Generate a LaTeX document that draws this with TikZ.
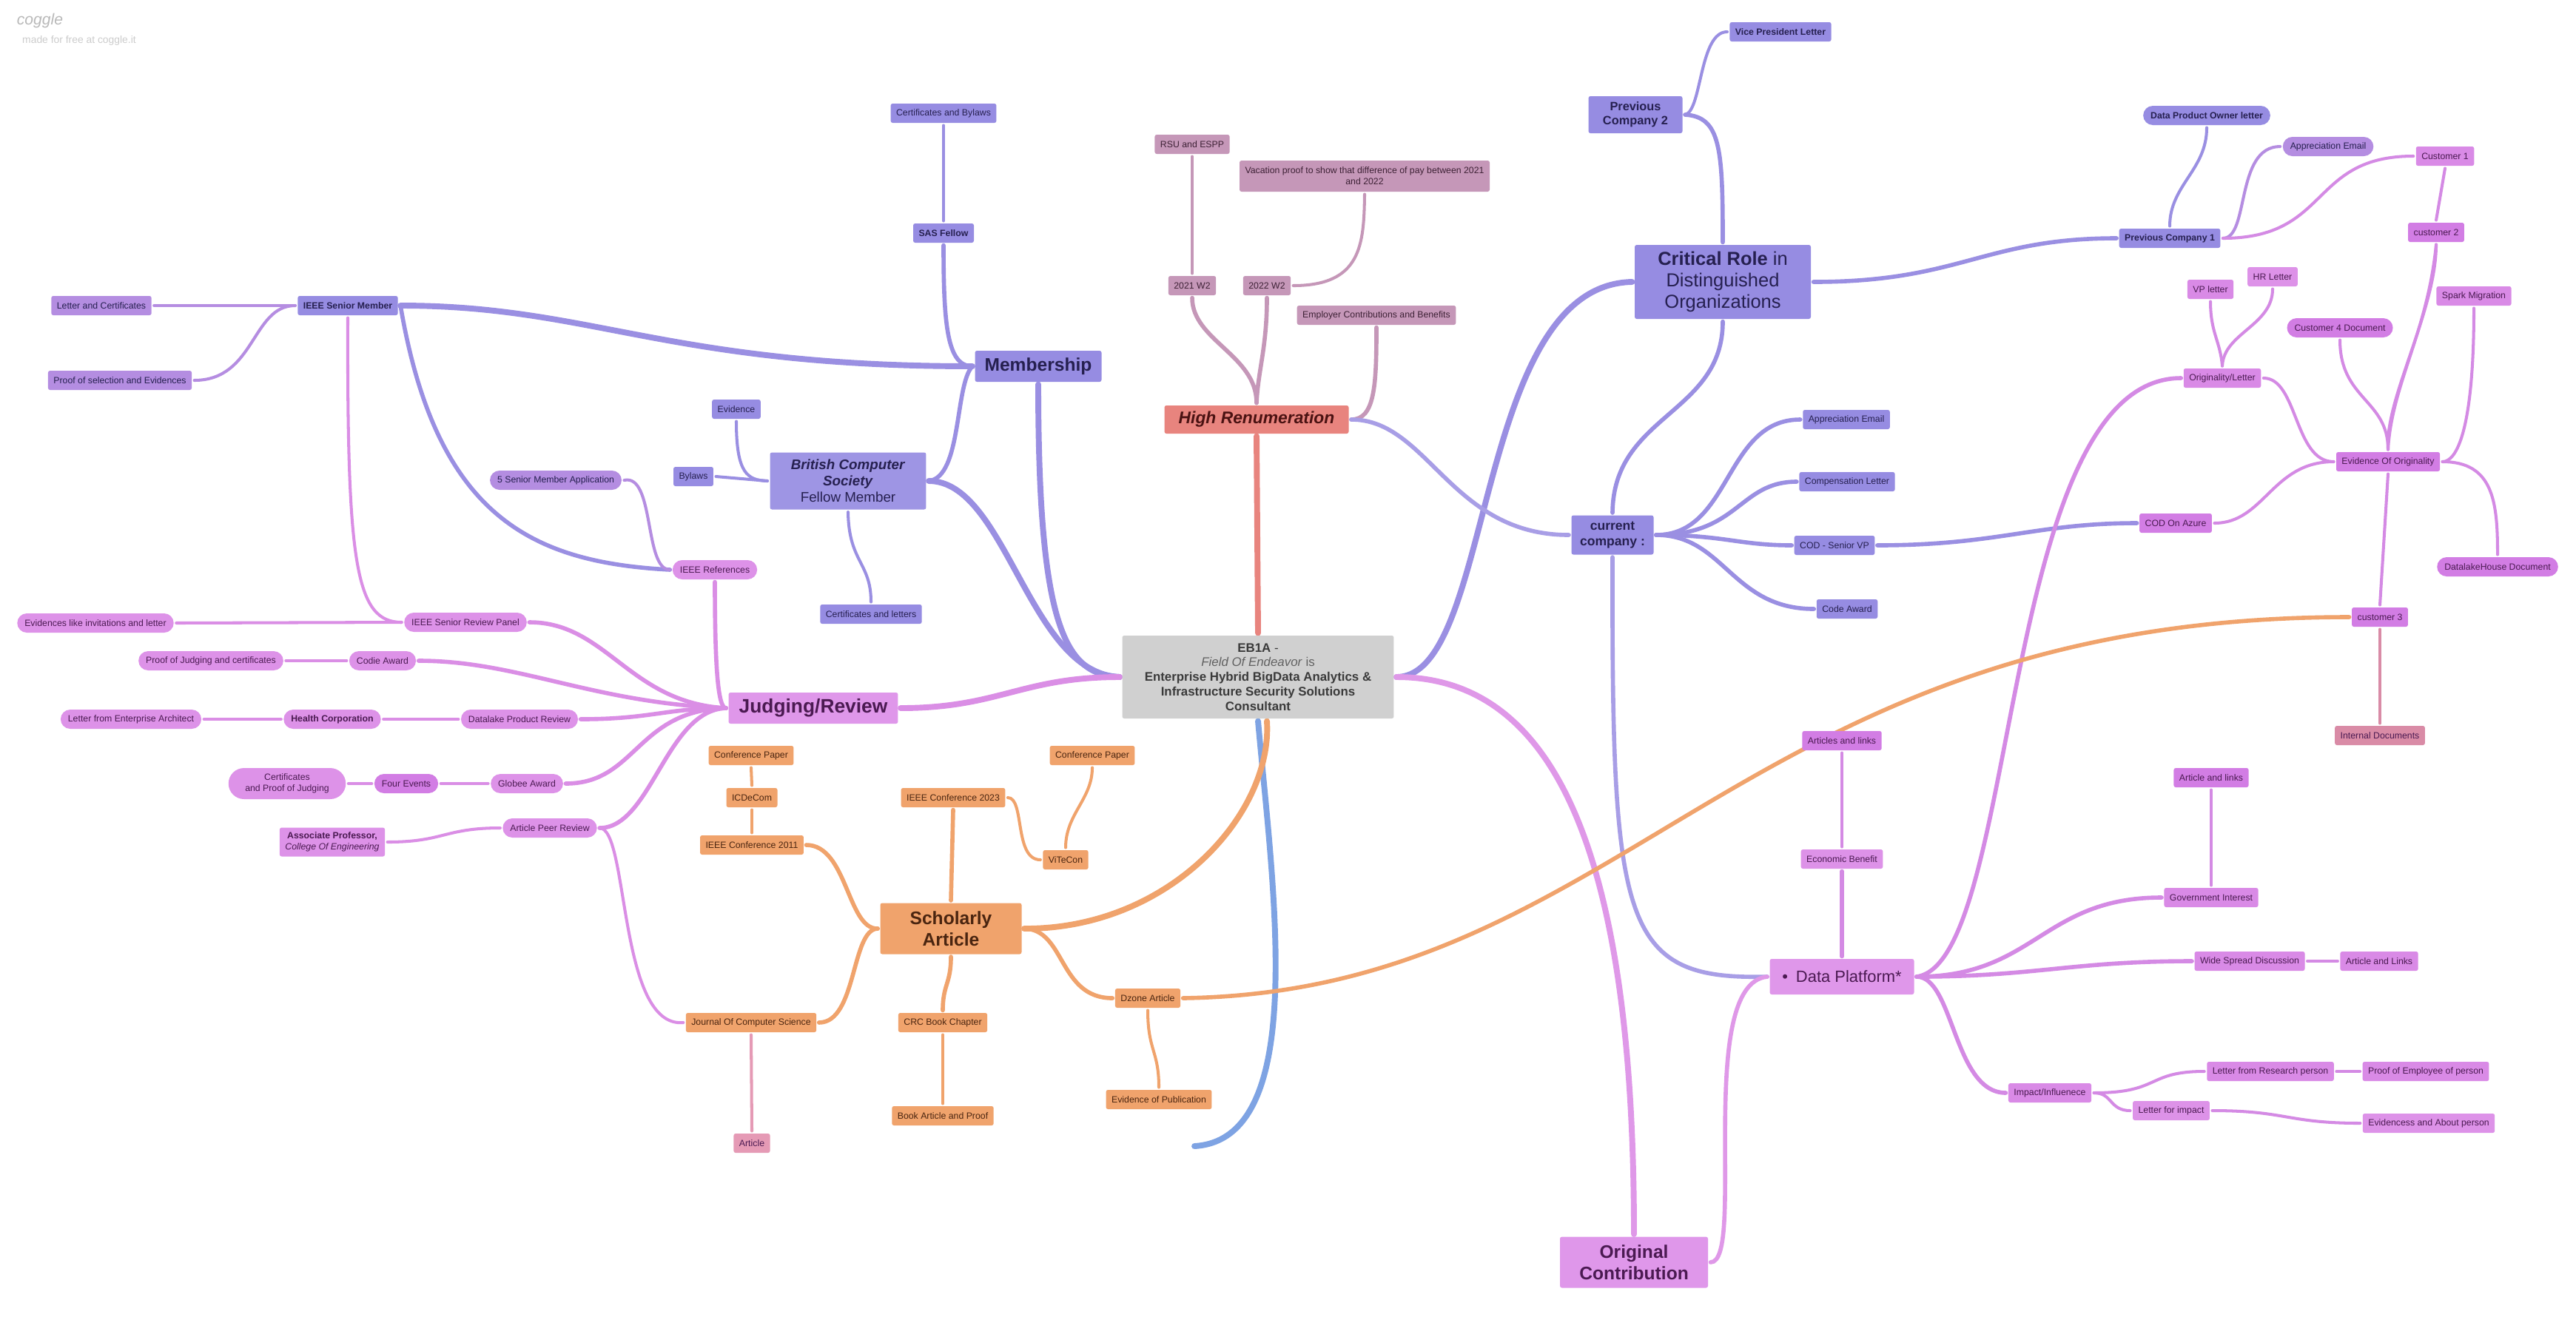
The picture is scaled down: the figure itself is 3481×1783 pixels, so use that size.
\documentclass[tikz,border=0pt]{standalone}
\usepackage{fontspec}
\setmainfont{Liberation Sans}
\usetikzlibrary{backgrounds}

\definecolor{memF}{HTML}{968CE2}
\definecolor{memT}{HTML}{262050}
\definecolor{memL}{HTML}{9A8FE2}
\definecolor{curL}{HTML}{A89EE6}
\definecolor{lilF}{HTML}{B48DE1}
\definecolor{lilL}{HTML}{B58DE1}
\definecolor{pnkF}{HTML}{DD92E8}
\definecolor{jrF}{HTML}{DF97EA}
\definecolor{pnkT}{HTML}{4B1A52}
\definecolor{pnkL}{HTML}{DA8EE5}
\definecolor{rpF}{HTML}{D98AE6}
\definecolor{rpdF}{HTML}{D27DE4}
\definecolor{rpL}{HTML}{D48AE4}
\definecolor{ocL}{HTML}{DF98E8}
\definecolor{hrF}{HTML}{E8847E}
\definecolor{hrT}{HTML}{4A1212}
\definecolor{hrL}{HTML}{E8847E}
\definecolor{mauF}{HTML}{C597B8}
\definecolor{mauT}{HTML}{3E2236}
\definecolor{mauL}{HTML}{C597B8}
\definecolor{orgF}{HTML}{F0A36C}
\definecolor{orgT}{HTML}{4A2510}
\definecolor{orgL}{HTML}{F0A36C}
\definecolor{rosF}{HTML}{E59AB5}
\definecolor{rosL}{HTML}{E59AB5}
\definecolor{intF}{HTML}{D98BA6}
\definecolor{intL}{HTML}{D98BA6}
\definecolor{ebF}{HTML}{D0D0D0}
\definecolor{ebT}{HTML}{3A3A3A}
\definecolor{bluL}{HTML}{7EA3E3}

\begin{document}
\begin{tikzpicture}[x=0.02cm,y=-0.02cm,
  box/.style={rectangle,rounded corners=1.5pt,minimum height=0.52cm,inner xsep=0.15cm,inner ysep=1pt,
    font=\fontsize{7}{8.6}\selectfont,align=center,outer sep=2pt},
  pill/.style={box,rounded corners=0.26cm,inner xsep=0.2cm},
  big/.style={rectangle,rounded corners=1.5pt,align=center,outer sep=2pt,inner sep=2pt},
  mem/.style={fill=memF,text=memT},
  lil/.style={fill=lilF,text=memT},
  pnk/.style={fill=pnkF,text=pnkT},
  rp/.style={fill=rpF,text=pnkT},
  rpd/.style={fill=rpdF,text=pnkT},
  mau/.style={fill=mauF,text=mauT},
  org/.style={fill=orgF,text=orgT},
  lk/.style={line width=3.2pt,line cap=round},
  lkw/.style={line width=4.5pt,line cap=round},
  lkn/.style={line width=2.3pt,line cap=round}]
\useasboundingbox (0,0) rectangle (3481,1783);

\node[font=\fontsize{12}{12}\selectfont\itshape,text=gray!55] (logo) at (54,28) {coggle};
\node[font=\fontsize{7.9}{9}\selectfont,text=gray!40] (madefor) at (107,55) {made for free at coggle.it};

\node[big,fill=ebF,text=ebT,minimum width=7.34cm,minimum height=2.24cm,font=\fontsize{9.6}{11.3}\selectfont] (eb) at (1700,915)
  {\textbf{EB1A} -\\ \textcolor{ebT!80}{\textit{Field Of Endeavor} is}\\ \textbf{Enterprise Hybrid BigData Analytics \&}\\ \textbf{Infrastructure Security Solutions}\\ \textbf{Consultant}};
\node[big,mem,minimum width=3.42cm,minimum height=0.84cm,font=\fontsize{14}{16}\selectfont\bfseries] (memb) at (1403,495) {Membership};
\node[big,fill=hrF,text=hrT,minimum width=4.98cm,minimum height=0.76cm,font=\fontsize{13}{15}\selectfont\bfseries\itshape] (hr) at (1698,567) {High Renumeration};
\node[big,mem,minimum width=4.76cm,minimum height=2cm,font=\fontsize{14.5}{16.5}\selectfont] (crit) at (2328,381) {\textbf{Critical Role} in\\ Distinguished\\ Organizations};
\node[big,fill=jrF,text=pnkT,minimum width=4.58cm,minimum height=0.84cm,font=\fontsize{15}{17}\selectfont\bfseries] (judge) at (1099,957) {Judging/Review};
\node[big,org,minimum width=3.82cm,minimum height=1.38cm,font=\fontsize{14}{16.2}\selectfont\bfseries] (schol) at (1285,1255) {Scholarly\\ Article};
\node[big,fill=jrF,text=pnkT,minimum width=4cm,minimum height=1.38cm,font=\fontsize{14}{16.2}\selectfont\bfseries] (orig) at (2208,1706) {Original\\ Contribution};
\node[big,mem,minimum width=2.22cm,minimum height=1.06cm,font=\fontsize{10}{12.3}\selectfont\bfseries] (cur) at (2179,723) {current\\ company :};
\node[big,fill=jrF,text=pnkT,minimum width=3.9cm,minimum height=0.96cm,font=\fontsize{12.5}{14}\selectfont] (dp) at (2489,1320) {\textbullet\enspace Data Platform*};
\node[big,mem,minimum width=2.54cm,minimum height=1cm,font=\fontsize{9.3}{10.8}\selectfont\bfseries] (pc2) at (2210,155) {Previous\\ Company 2};
\node[big,fill=memF!92!white,text=memT,minimum width=4.22cm,minimum height=1.54cm,font=\fontsize{10.7}{12.5}\selectfont] (bcs) at (1146,650)
  {\textbf{\textit{British Computer}}\\ \textbf{\textit{Society}}\\ Fellow Member};

\node[box,mem,font=\fontsize{7}{8.6}\selectfont\bfseries] (ieeesm) at (470,413) {IEEE Senior Member};
\node[box,mem,font=\fontsize{7}{8.6}\selectfont\bfseries] (sas) at (1275,315) {SAS Fellow};
\node[box,mem] (certbylaws) at (1275,153) {Certificates and Bylaws};
\node[box,mem] (bylaws) at (937,644) {Bylaws};
\node[box,mem] (evid) at (995,553) {Evidence};
\node[box,mem] (certlet) at (1177,830) {Certificates and letters};
\node[box,lil] (letcert) at (137,413) {Letter and Certificates};
\node[box,lil] (proofsel) at (162,514) {Proof of selection and Evidences};
\node[pill,lil] (smapp) at (751,649) {5 Senior Member Application};

\node[pill,pnk] (ieeeref) at (966,770) {IEEE References};
\node[pill,pnk] (srpanel) at (629,841) {IEEE Senior Review Panel};
\node[pill,pnk] (evinv) at (129,842) {Evidences like invitations and letter};
\node[pill,pnk] (codie) at (517,893) {Codie Award};
\node[pill,pnk] (proofjudge) at (285,893) {Proof of Judging and certificates};
\node[pill,pnk] (datalake) at (702,972) {Datalake Product Review};
\node[pill,pnk,font=\fontsize{7}{8.6}\selectfont\bfseries] (health) at (449,972) {Health Corporation};
\node[pill,pnk] (letarch) at (177,972) {Letter from Enterprise Architect};
\node[pill,pnk] (globee) at (712,1059) {Globee Award};
\node[pill,rpd] (fourev) at (549,1059) {Four Events};
\node[pill,pnk,rounded corners=0.42cm,minimum height=0.84cm,inner xsep=0.45cm] (certjudge) at (388,1059) {Certificates\\ and Proof of Judging};
\node[pill,pnk] (peer) at (743,1119) {Article Peer Review};
\node[box,pnk,minimum height=0.78cm] (assocprof) at (449,1138) {\textbf{Associate Professor,}\\ \textit{College Of Engineering}};

\node[box,org] (confpap1) at (1015,1021) {Conference Paper};
\node[box,org] (icdecom) at (1016,1078) {ICDeCom};
\node[box,org] (ieee11) at (1016,1142) {IEEE Conference 2011};
\node[box,org] (ieee23) at (1288,1078) {IEEE Conference 2023};
\node[box,org] (vitecon) at (1440,1162) {ViTeCon};
\node[box,org] (confpap2) at (1476,1021) {Conference Paper};
\node[box,org] (journal) at (1015,1382) {Journal Of Computer Science};
\node[box,org] (crc) at (1274,1382) {CRC Book Chapter};
\node[box,org] (bookart) at (1274,1508) {Book Article and Proof};
\node[box,org] (dzone) at (1551,1349) {Dzone Article};
\node[box,org] (evpub) at (1566,1486) {Evidence of Publication};
\node[box,fill=rosF,text=pnkT] (article) at (1016,1545) {Article};
\coordinate (bluend) at (1614,1549);

\node[box,mau] (rsu) at (1611,195) {RSU and ESPP};
\node[box,mau,minimum height=0.84cm] (vacation) at (1844,238) {Vacation proof to show that difference of pay between 2021\\ and 2022};
\node[box,mau] (w21) at (1611,386) {2021 W2};
\node[box,mau] (w22) at (1712,386) {2022 W2};
\node[box,mau] (employer) at (1860,426) {Employer Contributions and Benefits};

\node[box,mem,font=\fontsize{7}{8.6}\selectfont\bfseries] (vpl) at (2406,43) {Vice President Letter};
\node[box,mem,font=\fontsize{7}{8.6}\selectfont\bfseries] (pc1) at (2932,322) {Previous Company 1};
\node[pill,mem,font=\fontsize{7}{8.6}\selectfont\bfseries] (dpo) at (2982,156) {Data Product Owner letter};
\node[pill,lil] (apprpc1) at (3146,198) {Appreciation Email};
\node[box,mem] (apprcur) at (2495,567) {Appreciation Email};
\node[box,mem] (complet) at (2496,651) {Compensation Letter};
\node[box,mem] (codvp) at (2479,737) {COD - Senior VP};
\node[box,mem] (codeaward) at (2496,823) {Code Award};

\node[box,rp] (cust1) at (3304,211) {Customer 1};
\node[box,rpd] (cust2) at (3292,314) {customer 2};
\node[box,rp] (vpletter) at (2987,391) {VP letter};
\node[box,pnk] (hrletter) at (3071,374) {HR Letter};
\node[box,rp] (spark) at (3343,400) {Spark Migration};
\node[pill,rpd] (cust4) at (3162,443) {Customer 4 Document};
\node[box,rp] (origlet) at (3003,511) {Originality/Letter};
\node[box,rpd] (evorig) at (3227,624) {Evidence Of Originality};
\node[box,rpd] (codazure) at (2940,707) {COD On Azure};
\node[pill,rpd] (dlhouse) at (3375,766) {DatalakeHouse Document};
\node[box,rpd] (cust3) at (3216,834) {customer 3};
\node[box,fill=intF,text=pnkT] (intdocs) at (3216,994) {Internal Documents};
\node[box,rpd] (artlinks1) at (2489,1001) {Articles and links};
\node[box,pnk] (econ) at (2489,1161) {Economic Benefit};
\node[box,rpd] (artlinks2) at (2988,1051) {Article and links};
\node[box,rp] (govint) at (2988,1213) {Government Interest};
\node[box,rp] (wsd) at (3040,1299) {Wide Spread Discussion};
\node[box,rp] (artlinks3) at (3215,1299) {Article and Links};
\node[box,rp] (impact) at (2770,1477) {Impact/Influenece};
\node[box,rp] (lfrp) at (3068,1448) {Letter from Research person};
\node[box,rp] (poe) at (3278,1448) {Proof of Employee of person};
\node[box,pnk] (lfi) at (2934,1501) {Letter for impact};
\node[box,pnk] (evabout) at (3282,1518) {Evidencess and About person};

\begin{scope}[on background layer]
\fill[white] (0,0) rectangle (3481,1783);
\draw[lkw,memL] (memb.south) .. controls (1403,850) and (1440,912) .. (eb.west);
\draw[lkw,memL] (bcs.east) .. controls (1360,650) and (1390,910) .. (eb.west);
\draw[lkw,pnkL] (judge.east) .. controls (1350,957) and (1380,915) .. (eb.west);
\draw[lkw,hrL] (eb.north) -- (hr.south);
\draw[lkw,memL] (eb.east) .. controls (2020,915) and (1990,385) .. (crit.west);
\draw[lkw,ocL] (eb.east) .. controls (2100,915) and (2208,1150) .. (orig.north);
\draw[lkw,bluL] (eb.south) .. controls (1720,1200) and (1770,1540) .. (bluend);
\draw[lkw,orgL] ([xshift=0.24cm]eb.south) .. controls (1720,1100) and (1580,1256) .. (schol.east);

\draw[lkw,memL] (ieeesm.east) .. controls (800,413) and (900,495) .. (memb.west);
\draw[lk,memL] (sas.south) .. controls (1275,440) and (1280,495) .. (memb.west);
\draw[lk,memL] (bcs.east) .. controls (1300,645) and (1290,520) .. (memb.west);
\draw[lkn,memL] (sas.north) -- (certbylaws.south);
\draw[lk,memL] (ieeesm.east) .. controls (590,700) and (720,760) .. (ieeeref.west);
\draw[lkn,lilL] (ieeesm.west) -- (letcert.east);
\draw[lkn,lilL] (ieeesm.west) .. controls (340,413) and (345,514) .. (proofsel.east);
\draw[lkn,lilL] (smapp.east) .. controls (885,640) and (870,770) .. (ieeeref.west);
\draw[lkn,memL] (bcs.west) -- (bylaws.east);
\draw[lkn,memL] (evid.south) .. controls (995,640) and (1010,649) .. (bcs.west);
\draw[lkn,memL] (bcs.south) .. controls (1147,760) and (1177,760) .. (certlet.north);

\draw[lk,pnkL] (ieeeref.south) .. controls (966,900) and (970,957) .. (judge.west);
\draw[lk,pnkL] (srpanel.east) .. controls (820,841) and (850,950) .. (judge.west);
\draw[lk,pnkL] (codie.east) .. controls (700,893) and (800,950) .. (judge.west);
\draw[lk,pnkL] (datalake.east) .. controls (880,972) and (900,957) .. (judge.west);
\draw[lk,pnkL] (globee.east) .. controls (860,1059) and (860,960) .. (judge.west);
\draw[lk,pnkL] (peer.east) .. controls (880,1119) and (900,960) .. (judge.west);
\draw[lkn,pnkL] (ieeesm.south) .. controls (469,760) and (480,841) .. (srpanel.west);
\foreach \a/\b in {srpanel/evinv,codie/proofjudge,datalake/health,health/letarch,globee/fourev,fourev/certjudge}
  \draw[lkn,pnkL] (\a.west) -- (\b.east);
\draw[lkn,pnkL] (peer.west) .. controls (600,1119) and (600,1138) .. (assocprof.east);
\draw[lkn,pnkL] (peer.east) .. controls (850,1119) and (835,1390) .. (journal.west);

\draw[lk,mauL] (w21.south) .. controls (1611,460) and (1698,480) .. (hr.north);
\draw[lk,mauL] (w22.south) .. controls (1712,470) and (1700,500) .. (hr.north);
\draw[lk,mauL] (hr.east) .. controls (1858,567) and (1860,520) .. (employer.south);
\draw[lkn,mauL] (w21.north) -- (rsu.south);
\draw[lkn,mauL] (w22.east) .. controls (1840,386) and (1843,330) .. (vacation.south);
\draw[lk,curL] (hr.east) .. controls (1930,567) and (1960,723) .. (cur.west);

\draw[lk,memL] (crit.north) .. controls (2328,200) and (2325,158) .. (pc2.east);
\draw[lkn,memL] (pc2.east) .. controls (2300,150) and (2296,43) .. (vpl.west);
\draw[lk,memL] (crit.east) .. controls (2650,381) and (2680,322) .. (pc1.west);
\draw[lk,memL] (crit.south) .. controls (2328,560) and (2180,560) .. (cur.north);
\draw[lkn,memL] (pc1.north) .. controls (2932,250) and (2982,230) .. (dpo.south);
\draw[lkn,lilL] (pc1.east) .. controls (3040,322) and (3020,198) .. (apprpc1.west);
\draw[lkn,rpL] (pc1.east) .. controls (3150,322) and (3120,211) .. (cust1.west);
\draw[lk,memL] (cur.east) .. controls (2340,723) and (2330,567) .. (apprcur.west);
\draw[lk,memL] (cur.east) .. controls (2350,723) and (2350,651) .. (complet.west);
\draw[lk,memL] (cur.east) .. controls (2330,723) and (2350,737) .. (codvp.west);
\draw[lk,memL] (cur.east) .. controls (2330,723) and (2340,823) .. (codeaward.west);
\draw[lk,memL] (codvp.east) .. controls (2700,737) and (2750,707) .. (codazure.west);
\draw[lk,curL] (cur.south) .. controls (2178,1250) and (2190,1325) .. (dp.west);

\draw[lkn,rpL] (cust1.south) -- (cust2.north);
\draw[lkn,rpL] (cust2.south) .. controls (3280,450) and (3232,520) .. (evorig.north);
\draw[lkn,rpL] (cust2.south) .. controls (3292,420) and (3222,540) .. (evorig.north);
\draw[lkn,rpL] (vpletter.south) .. controls (2987,450) and (3000,460) .. (origlet.north);
\draw[lkn,rpL] (hrletter.south) .. controls (3071,440) and (3005,450) .. (origlet.north);
\draw[lkn,rpL] (origlet.east) .. controls (3105,511) and (3100,624) .. (evorig.west);
\draw[lk,rpL] (origlet.west) .. controls (2700,511) and (2730,1300) .. (dp.east);
\draw[lkn,rpL] (spark.south) .. controls (3343,580) and (3320,624) .. (evorig.east);
\draw[lkn,rpL] (cust4.south) .. controls (3162,540) and (3227,540) .. (evorig.north);
\draw[lkn,rpL] (codazure.east) .. controls (3060,707) and (3070,624) .. (evorig.west);
\draw[lkn,rpL] (evorig.east) .. controls (3370,624) and (3375,680) .. (dlhouse.north);
\draw[lkn,rpL] (evorig.south) -- (cust3.north);
\draw[lkn,intL] (cust3.south) -- (intdocs.north);
\draw[lk,orgL] (dzone.east) .. controls (2200,1340) and (2350,834) .. (cust3.west);
\draw[lkn,rpL] (econ.north) -- (artlinks1.south);
\draw[lk,rpL] (dp.north) -- (econ.south);
\draw[lkn,rpL] (artlinks2.south) -- (govint.north);
\draw[lk,rpL] (dp.east) .. controls (2750,1320) and (2760,1213) .. (govint.west);
\draw[lk,rpL] (dp.east) .. controls (2750,1320) and (2800,1299) .. (wsd.west);
\draw[lk,rpL] (dp.east) .. controls (2640,1320) and (2640,1477) .. (impact.west);
\draw[lkn,rpL] (wsd.east) -- (artlinks3.west);
\draw[lkn,rpL] (impact.east) .. controls (2920,1477) and (2900,1448) .. (lfrp.west);
\draw[lkn,rpL] (impact.east) .. controls (2855,1477) and (2850,1501) .. (lfi.west);
\draw[lkn,rpL] (lfrp.east) -- (poe.west);
\draw[lkn,rpL] (lfi.east) .. controls (3090,1501) and (3090,1518) .. (evabout.west);
\draw[lk,ocL] (dp.west) .. controls (2290,1330) and (2360,1706) .. (orig.east);

\draw[lk,orgL] (schol.east) .. controls (1440,1256) and (1430,1349) .. (dzone.west);
\draw[lk,orgL] (schol.west) .. controls (1145,1256) and (1145,1142) .. (ieee11.east);
\draw[lk,orgL] (schol.west) .. controls (1150,1256) and (1158,1382) .. (journal.east);
\draw[lk,orgL] (schol.north) -- (ieee23.south);
\draw[lk,orgL] (schol.south) .. controls (1285,1330) and (1274,1330) .. (crc.north);
\draw[lkn,orgL] (crc.south) -- (bookart.north);
\draw[lkn,rosL] (journal.south) -- (article.north);
\draw[lkn,orgL] (dzone.south) .. controls (1551,1420) and (1566,1420) .. (evpub.north);
\draw[lkn,orgL] (ieee23.east) .. controls (1385,1078) and (1370,1162) .. (vitecon.west);
\draw[lkn,orgL] (vitecon.north) .. controls (1440,1100) and (1476,1080) .. (confpap2.south);
\draw[lkn,orgL] (ieee11.north) -- (icdecom.south);
\draw[lkn,orgL] (icdecom.north) -- (confpap1.south);
\end{scope}
\end{tikzpicture}
\end{document}
